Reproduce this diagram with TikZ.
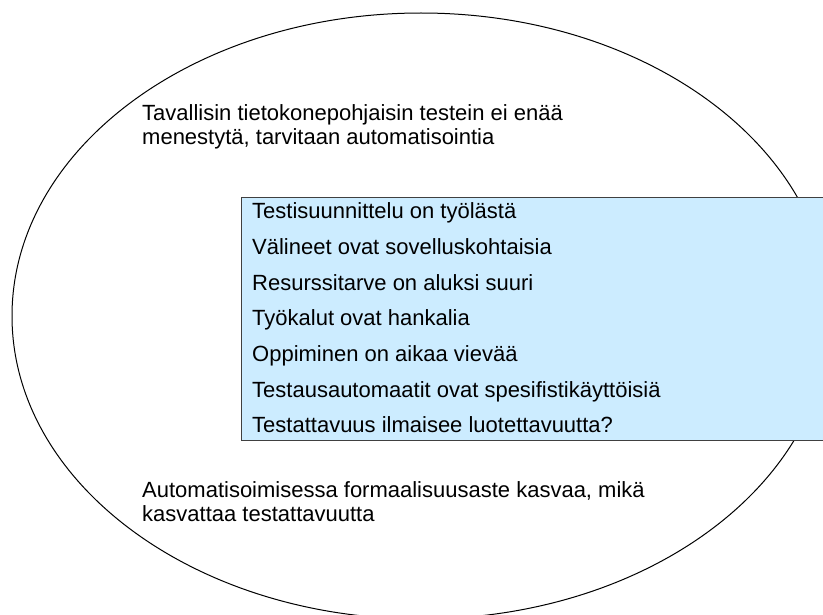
\documentclass[tikz,border=0pt]{standalone}
\usepackage{fontspec}
\setmainfont{Liberation Sans}
\usetikzlibrary{positioning}
\definecolor{boxblue}{RGB}{204,236,255}
\tikzstyle{item} = [anchor=west, inner sep=0pt, text height=16pt, text depth=4pt, font=\fontsize{22}{23}\selectfont]
\tikzstyle{para} = [anchor=north west, inner sep=0pt, align=left, font=\fontsize{22}{24}\selectfont]

\begin{document}
\begin{tikzpicture}[x=1pt, y=-1pt, node distance=15.2pt]
    \clip (0,0) rectangle (823,615);
    \draw[line width=1pt] (421,316) ellipse [x radius=409, y radius=303];
    \node (top) [para] at (142,104) {Tavallisin tietokonepohjaisin testein ei enää\\menestytä, tarvitaan automatisointia};
    \node (bottom) [para] at (142,481) {Automatisoimisessa formaalisuusaste kasvaa, mikä\\kasvattaa testattavuutta};
    % the blue list box
    \node (box) [draw=black!75, fill=boxblue, line width=1pt, minimum width=600pt, minimum height=243pt, inner sep=0pt, anchor=north west] at (241,197) {};
    \node (i1) [item] at (252,213) {Testisuunnittelu on työlästä};
    \node (i2) [item, below=of i1.south west, anchor=north west] {Välineet ovat sovelluskohtaisia};
    \node (i3) [item, below=of i2.south west, anchor=north west] {Resurssitarve on aluksi suuri};
    \node (i4) [item, below=of i3.south west, anchor=north west] {Työkalut ovat hankalia};
    \node (i5) [item, below=of i4.south west, anchor=north west] {Oppiminen on aikaa vievää};
    \node (i6) [item, below=of i5.south west, anchor=north west] {Testausautomaatit ovat spesifistikäyttöisiä};
    \node (i7) [item, below=of i6.south west, anchor=north west] {Testattavuus ilmaisee luotettavuutta?};
\end{tikzpicture}
\end{document}
